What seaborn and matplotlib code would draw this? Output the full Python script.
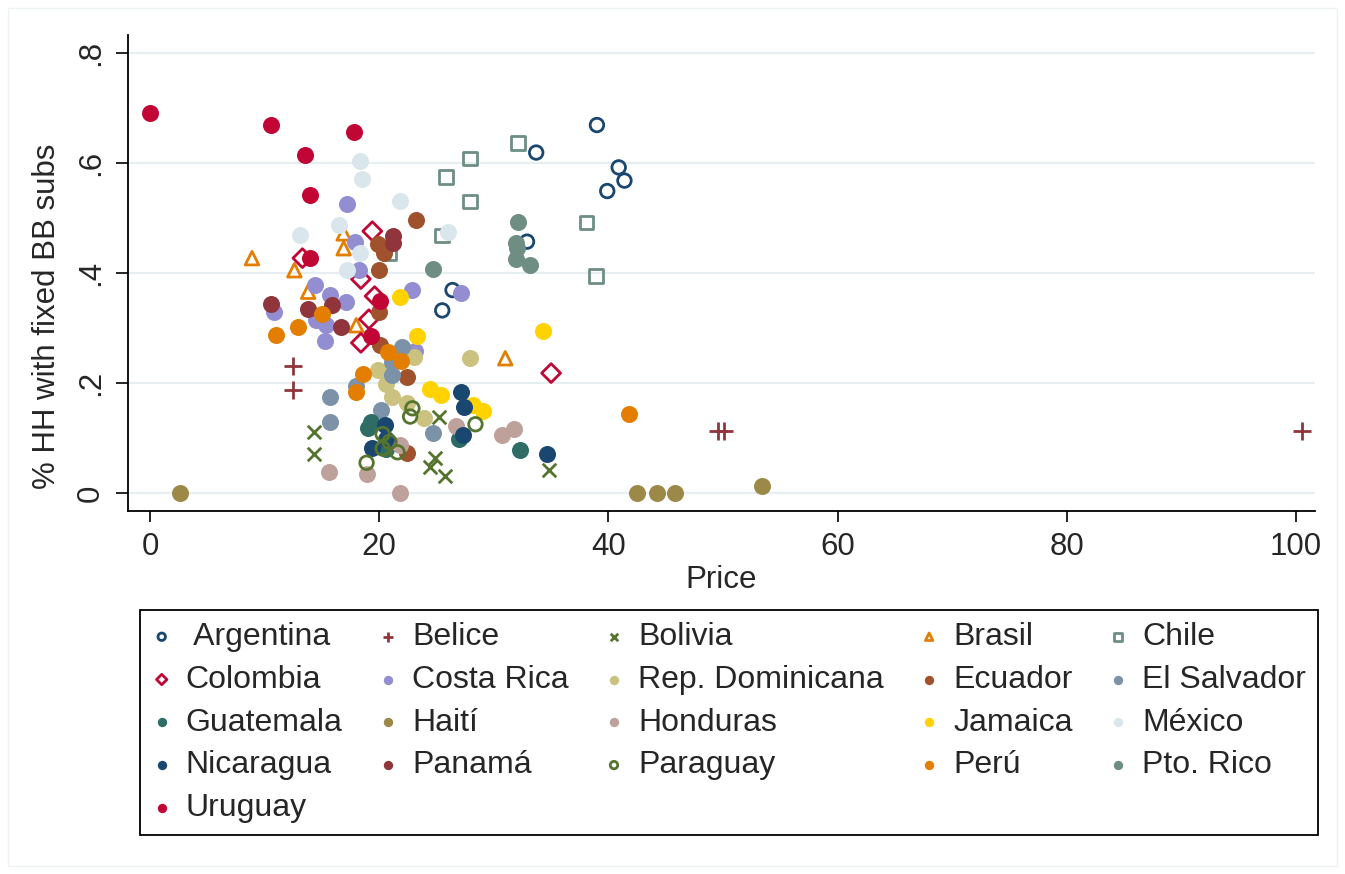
import matplotlib
matplotlib.use("Agg")
import matplotlib.pyplot as plt
import seaborn as sns
import pandas as pd
from matplotlib.patches import Rectangle

# ---------------- data ----------------
countries = ["Argentina", "Belice", "Bolivia", "Brasil", "Chile",
             "Colombia", "Costa Rica", "Rep. Dominicana", "Ecuador", "El Salvador",
             "Guatemala", "Haití", "Honduras", "Jamaica", "México",
             "Nicaragua", "Panamá", "Paraguay", "Perú", "Pto. Rico",
             "Uruguay"]

argentina_price = [39.0, 33.7, 40.9, 41.4, 39.9, 32.9, 26.4, 25.5]
argentina_share = [0.669, 0.619, 0.592, 0.568, 0.549, 0.457, 0.369, 0.332]
belice_price = [12.5, 12.5, 49.6, 50.1, 100.5]
belice_share = [0.231, 0.187, 0.113, 0.113, 0.113]
bolivia_price = [14.3, 14.3, 25.2, 24.9, 24.4, 25.7, 34.8]
bolivia_share = [0.111, 0.071, 0.138, 0.064, 0.048, 0.031, 0.041]
brasil_price = [8.9, 16.9, 16.9, 12.6, 13.8, 18.0, 31.0]
brasil_share = [0.427, 0.472, 0.445, 0.405, 0.366, 0.305, 0.245]
chile_price = [32.1, 27.9, 25.8, 27.9, 25.5, 38.1, 38.9, 20.9]
chile_share = [0.636, 0.608, 0.574, 0.530, 0.468, 0.492, 0.395, 0.436]
colombia_price = [19.4, 13.3, 18.4, 19.6, 19.1, 18.4, 35.0]
colombia_share = [0.476, 0.427, 0.389, 0.358, 0.316, 0.273, 0.218]
costarica_price = [17.2, 17.9, 18.2, 14.4, 22.9, 15.7, 17.1, 10.8, 14.5, 15.4, 15.3, 23.1, 27.1]
costarica_share = [0.525, 0.457, 0.405, 0.378, 0.369, 0.360, 0.348, 0.330, 0.315, 0.305, 0.276, 0.258, 0.364]
repdom_price = [19.9, 20.6, 21.1, 22.4, 23.9, 23.0, 27.9]
repdom_share = [0.224, 0.198, 0.175, 0.163, 0.136, 0.247, 0.245]
ecuador_price = [23.2, 19.9, 20.4, 20.0, 20.0, 20.1, 22.4, 22.4]
ecuador_share = [0.496, 0.453, 0.436, 0.405, 0.330, 0.269, 0.211, 0.072]
elsalvador_price = [22.0, 21.1, 21.1, 18.0, 15.7, 15.7, 20.2, 24.7]
elsalvador_share = [0.266, 0.239, 0.215, 0.195, 0.175, 0.129, 0.151, 0.110]
guatemala_price = [19.3, 19.0, 20.6, 27.0, 32.3]
guatemala_share = [0.130, 0.118, 0.080, 0.099, 0.079]
haiti_price = [2.6, 42.5, 44.2, 45.8, 53.4]
haiti_share = [0.0, 0.0, 0.0, 0.0, 0.013]
honduras_price = [15.6, 18.9, 21.8, 21.8, 26.7, 30.7, 31.8]
honduras_share = [0.039, 0.034, 0.0, 0.087, 0.121, 0.105, 0.116]
jamaica_price = [21.8, 23.3, 34.3, 24.4, 25.4, 28.2, 29.1]
jamaica_share = [0.356, 0.285, 0.295, 0.190, 0.178, 0.160, 0.150]
mexico_price = [18.3, 18.5, 21.8, 16.5, 13.1, 18.3, 17.2, 26.0]
mexico_share = [0.604, 0.570, 0.531, 0.488, 0.469, 0.437, 0.405, 0.475]
nicaragua_price = [27.1, 27.4, 27.3, 34.6, 20.5, 19.4, 20.6]
nicaragua_share = [0.184, 0.157, 0.105, 0.071, 0.124, 0.081, 0.098]
panama_price = [21.2, 21.2, 10.6, 13.8, 15.9, 16.7]
panama_share = [0.468, 0.455, 0.343, 0.334, 0.342, 0.302]
paraguay_price = [22.9, 22.7, 20.3, 20.9, 20.3, 21.6, 18.9, 28.4]
paraguay_share = [0.154, 0.139, 0.107, 0.093, 0.081, 0.074, 0.055, 0.125]
peru_price = [15.0, 12.9, 11.0, 20.8, 21.9, 18.6, 18.0, 41.8]
peru_share = [0.325, 0.301, 0.287, 0.257, 0.240, 0.216, 0.184, 0.144]
ptorico_price = [32.1, 31.9, 32.0, 31.9, 33.2, 24.7]
ptorico_share = [0.493, 0.455, 0.445, 0.425, 0.415, 0.407]
uruguay_price = [0.0, 10.6, 17.8, 13.5, 14.0, 14.0, 20.1, 19.3]
uruguay_share = [0.690, 0.669, 0.656, 0.614, 0.541, 0.428, 0.350, 0.285]

series = {
    "Argentina": (argentina_price, argentina_share),
    "Belice": (belice_price, belice_share),
    "Bolivia": (bolivia_price, bolivia_share),
    "Brasil": (brasil_price, brasil_share),
    "Chile": (chile_price, chile_share),
    "Colombia": (colombia_price, colombia_share),
    "Costa Rica": (costarica_price, costarica_share),
    "Rep. Dominicana": (repdom_price, repdom_share),
    "Ecuador": (ecuador_price, ecuador_share),
    "El Salvador": (elsalvador_price, elsalvador_share),
    "Guatemala": (guatemala_price, guatemala_share),
    "Haití": (haiti_price, haiti_share),
    "Honduras": (honduras_price, honduras_share),
    "Jamaica": (jamaica_price, jamaica_share),
    "México": (mexico_price, mexico_share),
    "Nicaragua": (nicaragua_price, nicaragua_share),
    "Panamá": (panama_price, panama_share),
    "Paraguay": (paraguay_price, paraguay_share),
    "Perú": (peru_price, peru_share),
    "Pto. Rico": (ptorico_price, ptorico_share),
    "Uruguay": (uruguay_price, uruguay_share),
}

x_ticks = [0, 20, 40, 60, 80, 100]
y_ticks = [0, 0.2, 0.4, 0.6, 0.8]
y_tick_labels = ["0", ".2", ".4", ".6", ".8"]

rows = []
for c in countries:
    xs, ys = series[c]
    for xv, yv in zip(xs, ys):
        rows.append({"country": c, "Price": xv, "share": yv})
df = pd.DataFrame(rows)

# ---------------- styles ----------------
colors = {
    "Argentina": "#1A476F", "Belice": "#90353B", "Bolivia": "#55752F",
    "Brasil": "#E37E00", "Chile": "#6E8E84", "Colombia": "#C10534",
    "Costa Rica": "#938DD2", "Rep. Dominicana": "#CAC27E", "Ecuador": "#A0522D",
    "El Salvador": "#7B92A8", "Guatemala": "#2D6D66", "Haití": "#9C8847",
    "Honduras": "#BFA19C", "Jamaica": "#FFD200", "México": "#D9E6EB",
    "Nicaragua": "#1A476F", "Panamá": "#90353B", "Paraguay": "#55752F",
    "Perú": "#E37E00", "Pto. Rico": "#6E8E84", "Uruguay": "#C10534",
}
# (marker, size, hollow, linewidth)
shapes = {
    "Argentina": ("o", 95, True, 2.0),
    "Belice": ("+", 170, False, 2.0),
    "Bolivia": ("x", 95, False, 2.0),
    "Brasil": ("^", 95, True, 2.0),
    "Chile": ("s", 98, True, 2.0),
    "Colombia": ("D", 92, True, 2.0),
    "Paraguay": ("o", 95, True, 2.0),
}
labels = {c: c for c in countries}
labels["Argentina"] = " Argentina"

sns.set_theme(style="white")
plt.rcParams["font.family"] = ["Liberation Sans", "DejaVu Sans"]

fig = plt.figure(figsize=(13.45, 8.74), dpi=100)
ax = fig.add_axes([128 / 1345, 1 - 511 / 874, (1315 - 128) / 1345, (511 - 35) / 874])

grid_c = "#E6EEF1"
for yv in y_ticks:
    ax.axhline(yv, color=grid_c, lw=1.6, zorder=0)

for c in countries:
    d = df[df["country"] == c]
    col = colors[c]
    if c in shapes:
        m, s, hollow, lw = shapes[c]
        if hollow:
            sns.scatterplot(data=d, x="Price", y="share", ax=ax, marker=m, s=s,
                            facecolor="none", edgecolor=col, linewidth=lw,
                            label=labels[c], zorder=3)
        else:
            sns.scatterplot(data=d, x="Price", y="share", ax=ax, marker=m, s=s,
                            color=col, linewidth=lw, label=labels[c], zorder=3)
    else:
        sns.scatterplot(data=d, x="Price", y="share", ax=ax, marker="o", s=150,
                        color=col, edgecolor=col, linewidth=0, label=labels[c], zorder=3)

ax.set_xlim(-1.92, 101.66)
ax.set_ylim(-0.0327, 0.8327)
ax.set_xticks(x_ticks)
ax.set_xticklabels([str(t) for t in x_ticks])
ax.set_yticks(y_ticks)
ax.set_yticklabels(y_tick_labels, rotation=90, va="center")
ax.tick_params(axis="x", length=8, width=1.2, color="black", pad=7, labelsize=22.5,
               direction="out", bottom=True)
ax.tick_params(axis="y", length=9, width=1.2, color="black", pad=7, labelsize=22.5,
               direction="out", left=True)
for sp in ["top", "right"]:
    ax.spines[sp].set_visible(False)
for sp in ["left", "bottom"]:
    ax.spines[sp].set_color("black")
    ax.spines[sp].set_linewidth(1.3)

ax.set_xlabel("Price", fontsize=22.5, labelpad=2)
ax.set_ylabel("% HH with fixed BB subs", fontsize=22.5)
ax.yaxis.set_label_coords(-0.056, 0.41)

handles, labs = ax.get_legend_handles_labels()
hmap = dict(zip(labs, handles))
order = []
for j in range(5):
    order.extend(countries[j::5])
ax.legend([hmap[labels[c]] for c in order], [labels[c] for c in order],
          ncol=5, loc="upper left",
          bbox_to_anchor=(140 / 1345, 1 - 835 / 874, (1318 - 140) / 1345, (835 - 610) / 874),
          bbox_transform=fig.transFigure, mode="expand",
          fontsize=23, frameon=True, fancybox=False, framealpha=1,
          edgecolor="black", markerscale=0.55, handlelength=0.6,
          handletextpad=0.45, labelspacing=0.4, borderpad=0.38,
          columnspacing=0.5, borderaxespad=0)
leg = ax.get_legend()
leg.get_frame().set_linewidth(1.3)

fig.patches.append(Rectangle((8 / 1345, 8 / 874), 1329 / 1345, 858 / 874,
                             transform=fig.transFigure, fill=False,
                             edgecolor="#EDF2F4", lw=1.0))

fig.savefig("out.png", dpi=100)
